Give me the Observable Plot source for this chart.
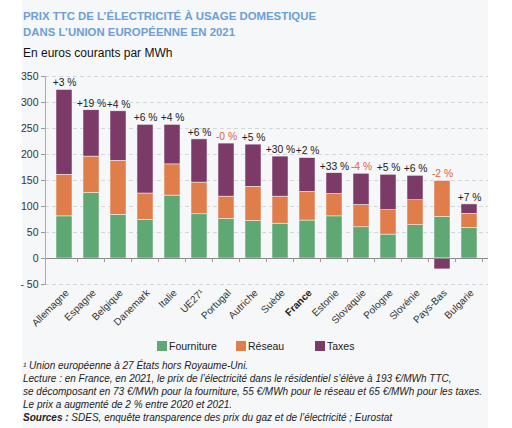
<!DOCTYPE html>
<html>
<head>
<meta charset="utf-8">
<script src="https://cdn.jsdelivr.net/npm/d3@7"></script>
<script src="https://cdn.jsdelivr.net/npm/@observablehq/plot@0.6"></script>
<style>
  html, body { margin: 0; padding: 0; background: #fff; }
  body { width: 512px; height: 428px; position: relative; overflow: hidden; font-family: "Liberation Sans", Arial, sans-serif; }
  #panel { position: absolute; left: 22px; top: 0; width: 466px; height: 428px; background: #f6f7f8; }
  #title { position: absolute; left: 23px; top: 9px; font-weight: bold; font-size: 11.4px; line-height: 15.5px; color: #6b9fd6; }
  #subtitle { position: absolute; left: 23px; top: 46px; font-size: 12px; color: #111; }
  #chart { position: absolute; left: 0; top: 60px; }
  #legend { position: absolute; top: 340px; left: 0; width: 512px; height: 14px; font-size: 10.5px; color: #222; }
  #legend .it { position: absolute; top: 0; }
  #legend .sw { position: absolute; top: 1px; width: 10px; height: 10px; }
  #notes { position: absolute; left: 23px; top: 359px; font-size: 10px; line-height: 13px; font-style: italic; color: #222; white-space: nowrap; }
</style>
</head>
<body>
<div id="panel"></div>
<div id="title">PRIX TTC DE L’ÉLECTRICITÉ À USAGE DOMESTIQUE<br>DANS L’UNION EUROPÉENNE EN 2021</div>
<div id="subtitle">En euros courants par MWh</div>
<div id="chart"></div>
<div id="legend"></div>
<div id="notes"></div>
<script>
const categories = ["Allemagne","Espagne","Belgique","Danemark","Italie","UE27¹","Portugal","Autriche","Suède","France","Estonie","Slovaquie","Pologne","Slovénie","Pays-Bas","Bulgarie"];
const fourniture = [81,126,84,74,121,85,76,72,67,73,81,60,46,64,80,59];
const reseau     = [80,70,104,51,60,61,43,66,52,55,43,43,47,48,69,27];
const taxes      = [163,89,95,132,76,83,102,81,77,65,40,60,68,47,-21,18];
const evolution  = ["+3 %","+19 %","+4 %","+6 %","+4 %","+6 %","-0 %","+5 %","+30 %","+2 %","+33 %","-4 %","+5 %","+6 %","-2 %","+7 %"];
const components = ["Fourniture","Réseau","Taxes"];
const colors = ["#5fa874","#e07e4b","#7b3a67"];
const yTicks = [-50,0,50,100,150,200,250,300,350];

const series = [fourniture, reseau, taxes];
const rows = [];
categories.forEach((c, i) => components.forEach((k, j) => rows.push({pays: c, comp: k, value: series[j][i]})));

const labels = categories.map((c, i) => ({
  pays: c,
  top: fourniture[i] + reseau[i] + Math.max(taxes[i], 0),
  text: evolution[i],
  neg: evolution[i].startsWith("-")
}));

const boundaryTicks = (index, scales, values, dims) => {
  const g = document.createElementNS("http://www.w3.org/2000/svg", "g");
  const x = scales.x, y0 = scales.y(0);
  const step = x(categories[1]) - x(categories[0]);
  const bw = x.bandwidth();
  categories.map(c => x(c) + bw / 2 + step / 2).forEach(px => {
    const l = document.createElementNS("http://www.w3.org/2000/svg", "line");
    l.setAttribute("x1", px); l.setAttribute("x2", px);
    l.setAttribute("y1", y0); l.setAttribute("y2", y0 + 4);
    l.setAttribute("stroke", "#999"); l.setAttribute("stroke-width", 1);
    g.appendChild(l);
  });
  return g;
};

const plot = Plot.plot({
  width: 512,
  height: 284,
  marginLeft: 45,
  marginRight: 24,
  marginTop: 16,
  marginBottom: 60,
  style: {background: "transparent", fontFamily: "Liberation Sans, Arial, sans-serif", fontSize: "10.5px", color: "#333"},
  x: {domain: categories, paddingInner: 0.41, paddingOuter: 0.205, axis: null},
  y: {domain: [-50, 350], axis: null},
  color: {domain: components, range: colors},
  marks: [
    Plot.ruleY(yTicks.filter(d => d !== 0), {stroke: "#d4d6d8", strokeDasharray: "4,3", strokeWidth: 1}),
    Plot.barY(rows, {x: "pays", y: "value", fill: "comp", order: components, stroke: "#f6f7f8", strokeWidth: 0.5}),
    Plot.ruleY([0], {stroke: "#8a8a8a", strokeWidth: 1}),
    Plot.frame({anchor: "left", stroke: "#aaa"}),
    boundaryTicks,
    Plot.axisY({ticks: yTicks, tickSize: 4, tickPadding: 3, tickFormat: d => d < 0 ? "- " + Math.abs(d) : String(d), stroke: "#999", fill: "#333", fontSize: 10.5, label: null}),
    Plot.text(labels, {x: "pays", y: "top", text: "text", dy: -7, fill: d => d.neg ? "#e0603a" : "#222", fontSize: 10.3}),
    Plot.text(categories.filter(c => c !== "France"), {x: d => d, frameAnchor: "bottom", rotate: -45, textAnchor: "end", dx: 5, dy: 9, fontSize: 10, fill: "#333"}),
    Plot.text(["France"], {x: d => d, frameAnchor: "bottom", rotate: -45, textAnchor: "end", dx: 5, dy: 9, fontSize: 10, fontWeight: "bold", fill: "#222"})
  ]
});
document.getElementById("chart").appendChild(plot);

const legend = document.getElementById("legend");
const legendPos = [157, 236, 315];
components.forEach((k, i) => {
  const sw = document.createElement("div");
  sw.className = "sw"; sw.style.left = legendPos[i] + "px"; sw.style.background = colors[i];
  const t = document.createElement("div");
  t.className = "it"; t.style.left = (legendPos[i] + 12) + "px"; t.textContent = k;
  legend.appendChild(sw); legend.appendChild(t);
});

const notes = [
  "¹ Union européenne à 27 États hors Royaume-Uni.",
  "Lecture : en France, en 2021, le prix de l’électricité dans le résidentiel s’élève à 193 €/MWh TTC,",
  "se décomposant en 73 €/MWh pour la fourniture, 55 €/MWh pour le réseau et 65 €/MWh pour les taxes.",
  "Le prix a augmenté de 2 % entre 2020 et 2021.",
  "<b>Sources :</b> SDES, enquête transparence des prix du gaz et de l’électricité ; Eurostat"
];
document.getElementById("notes").innerHTML = notes.join("<br>");
</script>
</body>
</html>
